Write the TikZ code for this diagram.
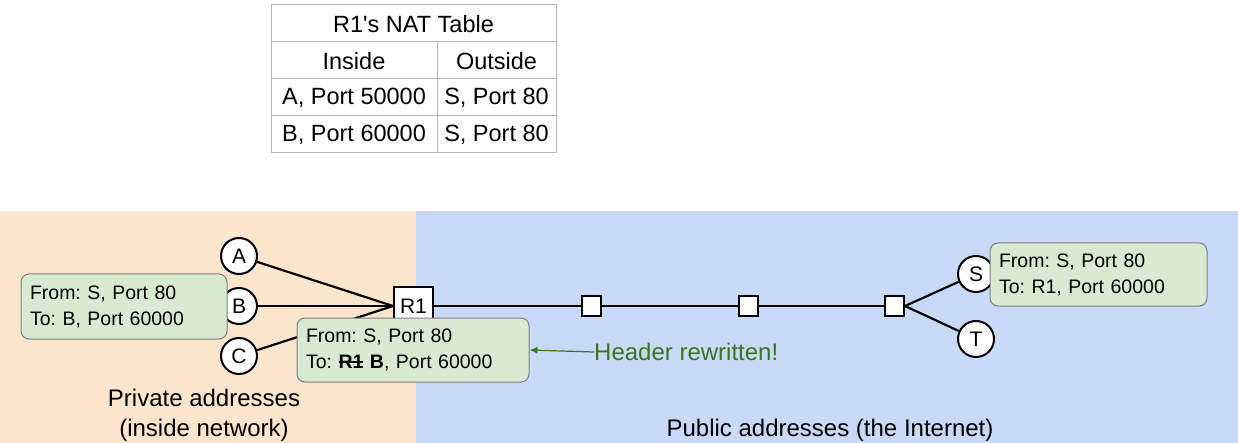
\documentclass[tikz,border=0pt]{standalone}
\usepackage{fontspec}
\setmainfont{Liberation Sans}
\usetikzlibrary{arrows.meta}

\definecolor{privbg}{HTML}{FCE5CD}
\definecolor{pubbg}{HTML}{C9DAF8}
\definecolor{pktfill}{HTML}{D9EAD3}
\definecolor{pktline}{HTML}{7F7F7F}
\definecolor{tabline}{HTML}{B7B7B7}
\definecolor{notegreen}{HTML}{38761D}

\newcommand{\crossout}[1]{\setbox0\hbox{#1}\rlap{\rule[0.3em]{\wd0}{1.3pt}}\box0\relax}
\frenchspacing

\tikzset{
  host/.style={circle,draw,line width=2pt,fill=white,minimum size=36pt,inner sep=0pt,
    font=\fontsize{21}{21}\selectfont},
  hop/.style={draw,line width=2pt,fill=white,minimum size=19pt,inner sep=0pt},
  pkt/.style={draw=pktline,fill=pktfill,rounded corners=8pt,line width=1pt,align=left,
    inner xsep=9pt,inner ysep=0pt,font=\fontsize{19.5}{26}\selectfont},
  cell/.style={font=\fontsize{23.5}{23.5}\selectfont,inner sep=0pt},
  link/.style={line width=2.2pt}
}

\begin{document}
\begin{tikzpicture}[x=1pt,y=-1pt]
\useasboundingbox (0,0) rectangle (1238,443);

% the two address regions
\fill[privbg] (0,211) rectangle (416,443);
\fill[pubbg] (416,211) rectangle (1238,443);

% NAT table
\draw[tabline,line width=1pt] (271,5) rectangle (556,153);
\draw[tabline,line width=1pt] (271,42) -- (556,42);
\draw[tabline,line width=1pt] (271,79) -- (556,79);
\draw[tabline,line width=1pt] (271,116) -- (556,116);
\draw[tabline,line width=1pt] (437,42) -- (437,153);
\node[cell] (title) at (413.5,24) {R1\textquotesingle s NAT Table};
\node[cell] (inhead) at (354,61) {Inside};
\node[cell] (outhead) at (496.5,61) {Outside};
\node[cell] (inA) at (354,98) {A, Port 50000};
\node[cell] (outA) at (496.5,98) {S, Port 80};
\node[cell] (inB) at (354,135) {B, Port 60000};
\node[cell] (outB) at (496.5,135) {S, Port 80};

% hosts and routers
\node[host] (A) at (239,256) {A};
\node[host] (B) at (239,306) {B};
\node[host] (C) at (239,356) {C};
\node[hop,minimum width=39pt,minimum height=38pt,font=\fontsize{21}{21}\selectfont] (R1) at (413.5,306) {R1};
\node[hop] (h1) at (591.5,306) {};
\node[hop] (h2) at (748.5,306) {};
\node[hop] (h3) at (894.5,306) {};
\node[host] (S) at (976,274) {S};
\node[host] (T) at (976,339) {T};

\draw[link] (A) -- (R1.west);
\draw[link] (B) -- (R1.west);
\draw[link] (C) -- (R1.west);
\draw[link] (R1) -- (h1);
\draw[link] (h1) -- (h2);
\draw[link] (h2) -- (h3);
\draw[link] (h3.east) -- (S);
\draw[link] (h3.east) -- (T);

% packet headers
\node[pkt,minimum width=206pt,minimum height=65pt,text width=188pt] (pktB) at (124,306.5)
  {From: S, Port 80\\To: B, Port 60000};
\node[pkt,minimum width=232pt,minimum height=64pt,text width=214pt] (pktR) at (413,350)
  {From: S, Port 80\\To: \crossout{\textbf{R1}} \textbf{B}, Port 60000};
\node[pkt,minimum width=217pt,minimum height=63pt,text width=199pt] (pktS) at (1098.5,274.5)
  {From: S, Port 80\\To: R1, Port 60000};

% note
\node[font=\fontsize{24}{24}\selectfont,text=notegreen,anchor=west,inner sep=0pt] (note) at (594,352)
  {Header rewritten!};
\draw[notegreen,line width=1.2pt,-{Latex[length=8pt,width=7pt]}] (note.west) -- (pktR.east);

% region labels
\node[font=\fontsize{24}{30}\selectfont,align=center] (privlbl) at (204,415)
  {Private addresses\\(inside network)};
\node[font=\fontsize{24}{24}\selectfont] (publbl) at (830,430) {Public addresses (the Internet)};
\end{tikzpicture}
\end{document}
